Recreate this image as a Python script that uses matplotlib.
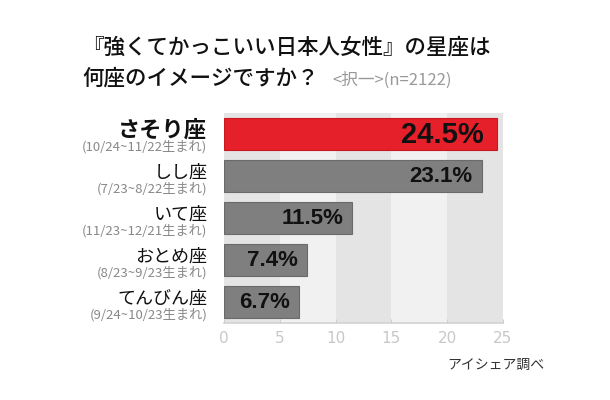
import numpy as np
import matplotlib.pyplot as plt

plt.rcParams['font.family'] = ['Noto Sans CJK JP', 'DejaVu Sans']

# data
signs = ['さそり座', 'しし座', 'いて座', 'おとめ座', 'てんびん座']
periods = ['(10/24~11/22生まれ)', '(7/23~8/22生まれ)', '(11/23~12/21生まれ)',
           '(8/23~9/23生まれ)', '(9/24~10/23生まれ)']
values = [24.5, 23.1, 11.5, 7.4, 6.7]
xticks = [0, 5, 10, 15, 20, 25]

W, H = 610, 400
fig = plt.figure(figsize=(W / 100, H / 100), dpi=100)
fig.patch.set_facecolor('white')

ax = fig.add_axes([224 / W, 1 - 323 / H, 279 / W, 210 / H])

# alternating background bands
band_dark = '#e4e4e4'
band_light = '#f1f1f1'
for i in range(len(xticks) - 1):
    ax.axvspan(xticks[i], xticks[i + 1],
               color=band_dark if i % 2 == 0 else band_light, zorder=0, lw=0)

y = np.arange(len(values))
colors = ['#e5202a'] + ['#7f7f80'] * (len(values) - 1)
edges = ['#c81820'] + ['#6a6a6a'] * (len(values) - 1)
ax.barh(y, values, height=0.76, color=colors, edgecolor=edges, linewidth=0.8, zorder=2)

for i, v in enumerate(values):
    fs = 21 if i == 0 else 16
    pad = 1.2 if i == 0 else 0.8
    ax.text(v - pad, i + 0.02, f'{v}%', ha='right', va='center', fontsize=fs,
            fontweight='bold', color='#111111', family=['Liberation Sans', 'DejaVu Sans'],
            zorder=3)

ax.set_xlim(0, 25)
ax.set_ylim(len(values) - 0.5, -0.5)
ax.set_yticks([])
ax.set_xticks(xticks)
ax.set_xticklabels([str(t) for t in xticks],
                   family=['Liberation Sans Narrow', 'DejaVu Sans'], fontsize=11,
                   color='#c8c8c8')
ax.tick_params(axis='x', direction='in', length=3, color='#cfcfcf', pad=6)
for s in ['top', 'right', 'left']:
    ax.spines[s].set_visible(False)
ax.spines['bottom'].set_color('#d2d2d2')
ax.spines['bottom'].set_linewidth(1.2)

# left labels
for i, (name, per) in enumerate(zip(signs, periods)):
    if i == 0:
        ax.text(-1.5, i - 0.1, name, ha='right', va='center', fontsize=16,
                fontweight='bold', color='#111111', clip_on=False)
    else:
        ax.text(-1.5, i - 0.08, name, ha='right', va='center', fontsize=13,
                color='#111111', clip_on=False)
    ax.text(-1.5, i + 0.31, per, ha='right', va='center', fontsize=9.5,
            color='#888888', clip_on=False)

# title
fig.text(82 / W, 1 - 48 / H, '『強くてかっこいい日本人女性』の星座は', fontsize=15.5,
         color='#111111', va='center', ha='left', fontweight='medium')
fig.text(82 / W, 1 - 79 / H, '何座のイメージですか？', fontsize=15.5,
         color='#111111', va='center', ha='left', fontweight='medium')
fig.text(332 / W, 1 - 80 / H, '<択一>(n=2122)', fontsize=12,
         color='#999999', va='center', ha='left')

fig.text(447 / W, 1 - 365 / H, 'アイシェア調べ', fontsize=10, color='#333333',
         va='center', ha='left')

fig.savefig('out.png', dpi=100)
